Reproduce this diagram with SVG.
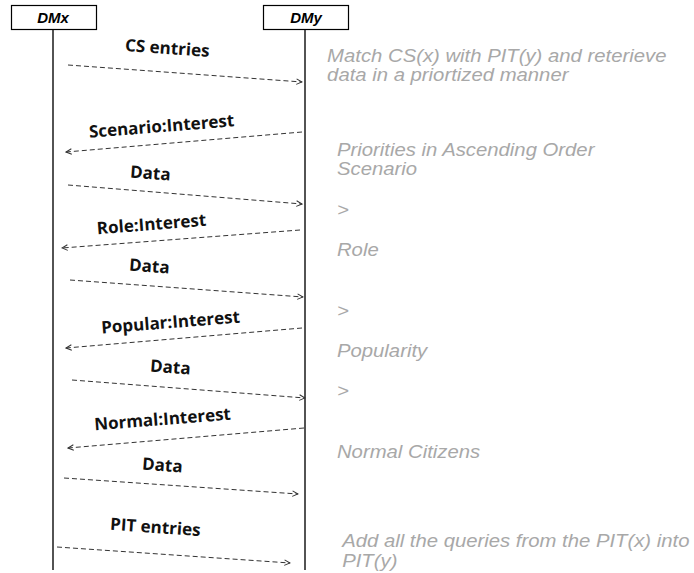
<svg xmlns="http://www.w3.org/2000/svg" width="694" height="573" viewBox="0 0 694 573">
  <style>
    .box { fill: #ffffff; stroke: #000000; stroke-width: 1.2; }
    .head { font-family: "Liberation Sans", Arial, sans-serif; font-weight: bold; font-style: italic; font-size: 15px; fill: #000000; text-anchor: middle; }
    .life { stroke: #1a1a1a; stroke-width: 1.5; fill: none; }
    .msg { stroke: #333333; stroke-width: 1; stroke-dasharray: 5 3; fill: none; marker-end: url(#open); }
    .lbl { font-family: "Open Sans", "Noto Sans", sans-serif; font-weight: bold; font-size: 17px; fill: #111111; text-anchor: middle; }
    .note { font-family: "Liberation Sans", Arial, sans-serif; font-style: italic; font-size: 17.5px; fill: #a8a8a8; }
  </style>
  <defs>
    <marker id="open" viewBox="0 0 10 10" refX="9" refY="5" markerWidth="7" markerHeight="7" orient="auto" markerUnits="userSpaceOnUse">
      <path d="M1 1 L9 5 L1 9" fill="none" stroke="#333333" stroke-width="1.4"/>
    </marker>
  </defs>
  <rect width="694" height="573" fill="#ffffff"/>

  <!-- participants -->
  <g id="dmx">
    <rect class="box" x="11.5" y="5.5" width="85" height="24"/>
    <text class="head" x="53" y="23">DMx</text>
    <line class="life" x1="53" y1="30" x2="53" y2="570"/>
  </g>
  <g id="dmy">
    <rect class="box" x="263.5" y="5.5" width="85" height="24"/>
    <text class="head" x="306" y="23">DMy</text>
    <line class="life" x1="305" y1="30" x2="305" y2="570"/>
  </g>

  <!-- messages -->
  <g id="connectors">
    <line class="msg" x1="68" y1="65" x2="302" y2="82"/>
    <line class="msg" x1="302" y1="132" x2="66" y2="152"/>
    <line class="msg" x1="68" y1="185" x2="302" y2="204"/>
    <line class="msg" x1="300" y1="230" x2="62" y2="248"/>
    <line class="msg" x1="70" y1="280" x2="303" y2="297"/>
    <line class="msg" x1="302" y1="328" x2="66" y2="348"/>
    <line class="msg" x1="72" y1="380" x2="305" y2="398"/>
    <line class="msg" x1="304" y1="428" x2="68" y2="448"/>
    <line class="msg" x1="64" y1="478" x2="298" y2="494"/>
    <line class="msg" x1="57" y1="547" x2="290" y2="563"/>
  </g>

  <!-- message labels -->
  <g id="labels">
    <text class="lbl" x="167" y="54" transform="rotate(4 167 54)">CS entries</text>
    <text class="lbl" x="162" y="132" transform="rotate(-4.5 162 132)">Scenario:Interest</text>
    <text class="lbl" x="150" y="179" transform="rotate(4.5 150 179)">Data</text>
    <text class="lbl" x="152" y="230" transform="rotate(-4.5 152 230)">Role:Interest</text>
    <text class="lbl" x="149" y="272" transform="rotate(4.5 149 272)">Data</text>
    <text class="lbl" x="171" y="328" transform="rotate(-4.5 171 328)">Popular:Interest</text>
    <text class="lbl" x="170" y="373" transform="rotate(4.5 170 373)">Data</text>
    <text class="lbl" x="163" y="425" transform="rotate(-4.5 163 425)">Normal:Interest</text>
    <text class="lbl" x="162" y="471" transform="rotate(4.5 162 471)">Data</text>
    <text class="lbl" x="155" y="533" transform="rotate(4 155 533)">PIT entries</text>
  </g>

  <!-- side notes, set in a horizontally widened Arial -->
  <g id="notes" transform="scale(1.16 1)">
    <text class="note" x="282" y="62">Match CS(x) with PIT(y) and reterieve</text>
    <text class="note" x="282" y="81">data in a priortized manner</text>
    <text class="note" x="290.5" y="156.5">Priorities in Ascending Order</text>
    <text class="note" x="290.5" y="175.5">Scenario</text>
    <text class="note" x="290.5" y="216">&gt;</text>
    <text class="note" x="290.5" y="256">Role</text>
    <text class="note" x="290.5" y="317">&gt;</text>
    <text class="note" x="290.5" y="357">Popularity</text>
    <text class="note" x="290.5" y="397">&gt;</text>
    <text class="note" x="290.5" y="458">Normal Citizens</text>
    <text class="note" x="295" y="547">Add all the queries from the PIT(x) into</text>
    <text class="note" x="295" y="567">PIT(y)</text>
  </g>
</svg>
